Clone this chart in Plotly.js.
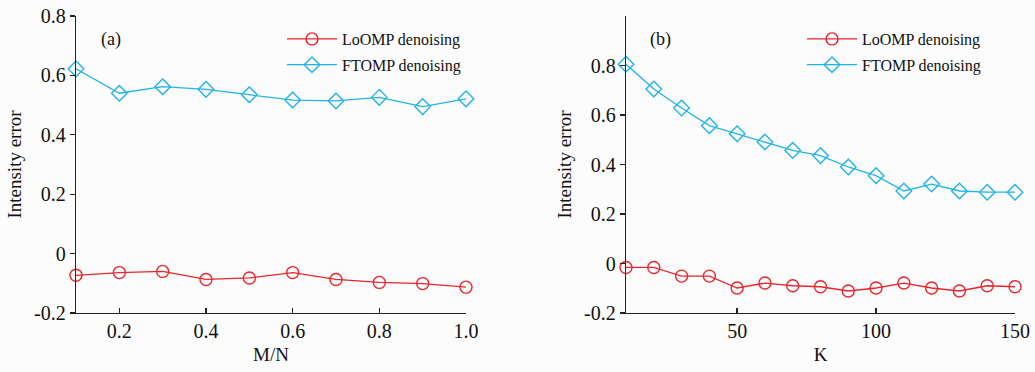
<!DOCTYPE html>
<html>
<head>
<meta charset="utf-8">
<script src="https://cdn.plot.ly/plotly-3.0.1.min.js"></script>
<style>html,body{margin:0;padding:0;background:#fcfcfc;}#chart{width:1035px;height:372px;}</style>
</head>
<body>
<div id="chart"></div>
<script>
// Panel (a)
const mnValues = [0.1, 0.2, 0.3, 0.4, 0.5, 0.6, 0.7, 0.8, 0.9, 1.0];
const loompA = [-0.073, -0.064, -0.060, -0.087, -0.082, -0.064, -0.087, -0.097, -0.101, -0.113];
const ftompA = [0.622, 0.540, 0.562, 0.553, 0.535, 0.517, 0.514, 0.526, 0.495, 0.521];
// Panel (b)
const kValues = [10, 20, 30, 40, 50, 60, 70, 80, 90, 100, 110, 120, 130, 140, 150];
const loompB = [-0.016, -0.016, -0.051, -0.051, -0.099, -0.079, -0.090, -0.094, -0.111, -0.099, -0.079, -0.099, -0.111, -0.090, -0.094];
const ftompB = [0.805, 0.705, 0.628, 0.557, 0.524, 0.491, 0.457, 0.436, 0.390, 0.355, 0.293, 0.321, 0.293, 0.288, 0.288];

const seriesNames = ['LoOMP denoising', 'FTOMP denoising'];
const xTicksA = [0.2, 0.4, 0.6, 0.8, 1.0];
const xTickTextA = ['0.2', '0.4', '0.6', '0.8', '1.0'];
const yTicksA = [-0.2, 0, 0.2, 0.4, 0.6, 0.8];
const yTickTextA = ['-0.2', '0', '0.2', '0.4', '0.6', '0.8'];
const xTicksB = [50, 100, 150];
const yTicksB = [-0.2, 0, 0.2, 0.4, 0.6, 0.8];
const yTickTextB = ['-0.2', '0', '0.2', '0.4', '0.6', '0.8'];

const RED = '#e8262d';
const BLUE = '#21b3e6';
const FONT = 'Liberation Serif, Times New Roman, serif';
const W = 1035, H = 372;

function tr(x, y, name, color, sym, xa, ya, leg, grp) {
  return {
    x: x, y: y, name: name, type: 'scatter', mode: 'lines+markers',
    xaxis: xa, yaxis: ya, legend: leg, legendgroup: grp, cliponaxis: false,
    line: {color: color, width: 1.3},
    marker: {symbol: sym, size: 12, color: color, line: {color: color, width: 1.4}}
  };
}

const data = [
  tr(mnValues, loompA, seriesNames[0], RED, 'circle-open', 'x', 'y', 'legend', 'a1'),
  tr(mnValues, ftompA, seriesNames[1], BLUE, 'diamond-open', 'x', 'y', 'legend', 'a2'),
  tr(kValues, loompB, seriesNames[0], RED, 'circle-open', 'x2', 'y2', 'legend2', 'b1'),
  tr(kValues, ftompB, seriesNames[1], BLUE, 'diamond-open', 'x2', 'y2', 'legend2', 'b2')
];

const yDom = [1 - 313 / H, 1 - 16 / H];
const axCommon = {
  showgrid: false, zeroline: false, showline: true, linecolor: '#222', linewidth: 1.3,
  ticks: 'outside', ticklen: 5, tickcolor: '#222', tickwidth: 1.3,
  tickfont: {family: FONT, size: 20, color: '#111'}
};
const legCommon = {
  font: {family: FONT, size: 16, color: '#111'}, bgcolor: 'rgba(0,0,0,0)',
  itemwidth: 50, tracegroupgap: 2, xanchor: 'left', yanchor: 'top'
};

const layout = {
  width: W, height: H,
  margin: {l: 0, r: 0, t: 0, b: 0},
  paper_bgcolor: '#fcfcfc', plot_bgcolor: '#fcfcfc',
  showlegend: true,
  xaxis: Object.assign({}, axCommon, {
    domain: [76 / W, 466 / W], range: [0.1, 1.0], tickvals: xTicksA, ticktext: xTickTextA,
    ticks: 'inside', anchor: 'y',
    title: {text: 'M/N', font: {family: FONT, size: 19, color: '#111'}, standoff: 6}
  }),
  yaxis: Object.assign({}, axCommon, {
    domain: yDom, range: [-0.2, 0.8], tickvals: yTicksA, ticktext: yTickTextA, anchor: 'x',
    title: {text: 'Intensity error', font: {family: FONT, size: 19, color: '#111'}, standoff: 7}
  }),
  xaxis2: Object.assign({}, axCommon, {
    domain: [626 / W, 1015 / W], range: [10, 150], tickvals: xTicksB,
    ticks: 'inside', anchor: 'y2',
    title: {text: 'K', font: {family: FONT, size: 19, color: '#111'}, standoff: 6}
  }),
  yaxis2: Object.assign({}, axCommon, {
    domain: yDom, range: [-0.2, 1.0], tickvals: yTicksB, ticktext: yTickTextB, anchor: 'x2',
    title: {text: 'Intensity error', font: {family: FONT, size: 19, color: '#111'}, standoff: 7}
  }),
  legend: Object.assign({}, legCommon, {x: 282 / W, y: 1 - 22 / H}),
  legend2: Object.assign({}, legCommon, {x: 802 / W, y: 1 - 22 / H}),
  annotations: [
    {text: '(a)', xref: 'paper', yref: 'paper', x: 111 / W, y: 1 - 39 / H, showarrow: false,
     xanchor: 'center', yanchor: 'middle', font: {family: FONT, size: 18, color: '#111'}},
    {text: '(b)', xref: 'paper', yref: 'paper', x: 660 / W, y: 1 - 39 / H, showarrow: false,
     xanchor: 'center', yanchor: 'middle', font: {family: FONT, size: 18, color: '#111'}}
  ]
};

Plotly.newPlot('chart', data, layout, {displayModeBar: false, staticPlot: true});
</script>
</body>
</html>
